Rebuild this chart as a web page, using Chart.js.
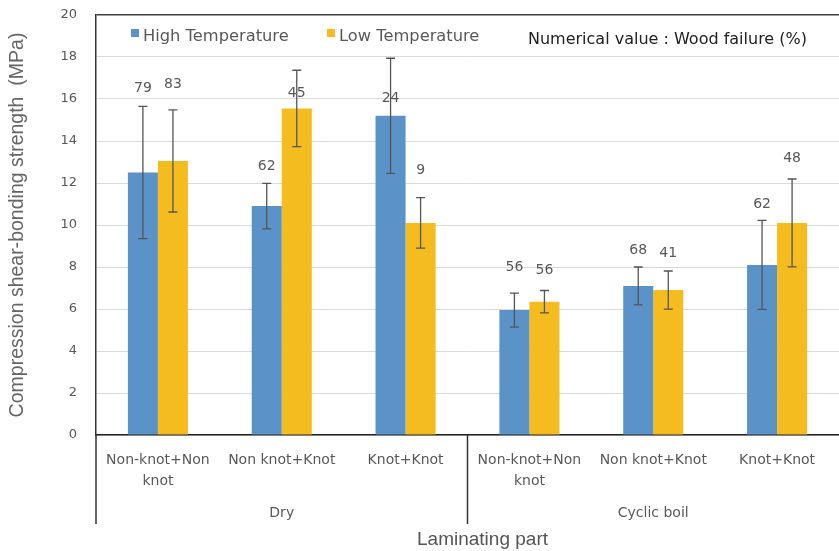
<!DOCTYPE html>
<html>
<head>
<meta charset="utf-8">
<script src="https://cdn.jsdelivr.net/npm/chart.js@4.4.1/dist/chart.umd.min.js"></script>
<style>
  html, body { margin: 0; padding: 0; background: #fff; }
  #wrap { width: 839px; height: 551px; position: relative; }
</style>
</head>
<body>
<div id="wrap"><canvas id="chart"></canvas></div>
<script>
// Data
const parts = [['Non-knot+Non', 'knot'], 'Non knot+Knot', 'Knot+Knot', ['Non-knot+Non', 'knot'], 'Non knot+Knot', 'Knot+Knot'];
const groups = ['Dry', 'Cyclic boil'];
const groupSize = 3;
const highTemp = [12.5, 10.9, 15.2, 5.95, 7.1, 8.1];
const highErr = [3.15, 1.08, 2.74, 0.81, 0.9, 2.12];
const lowTemp = [13.05, 15.55, 10.1, 6.35, 6.9, 10.1];
const lowErr = [2.43, 1.82, 1.2, 0.53, 0.91, 2.09];
// wood failure (%) shown above each bar, and the height (MPa) where each is written
const highWF = [79, 62, 24, 56, 68, 62];
const lowWF = [83, 45, 9, 56, 41, 48];
const highWFAt = [16.5, 12.8, 16.05, 7.98, 8.8, 11.0];
const lowWFAt = [16.7, 16.25, 12.6, 7.85, 8.65, 13.15];
const yMin = 0, yMax = 20, yStep = 2;

const FONT = '"DejaVu Sans", Verdana, sans-serif';
const TITLE_FONT = '"Liberation Sans", Arial, sans-serif';
const GRAY = '#595959';
const errs = [highErr, lowErr];
const wfs = [highWF, lowWF];
const wfAt = [highWFAt, lowWFAt];

// error bars, wood failure numbers, legend, group labels, axis title
const extras = {
  id: 'extras',
  afterDatasetsDraw(chart) {
    const ctx = chart.ctx;
    const y = chart.scales.y;
    ctx.save();
    chart.data.datasets.forEach((ds, di) => {
      const meta = chart.getDatasetMeta(di);
      meta.data.forEach((bar, i) => {
        const v = ds.data[i], e = errs[di][i];
        const top = y.getPixelForValue(v + e), bot = y.getPixelForValue(v - e);
        ctx.strokeStyle = '#555';
        ctx.lineWidth = 1.3;
        ctx.beginPath();
        ctx.moveTo(bar.x, top); ctx.lineTo(bar.x, bot);
        ctx.moveTo(bar.x - 4.5, top); ctx.lineTo(bar.x + 4.5, top);
        ctx.moveTo(bar.x - 4.5, bot); ctx.lineTo(bar.x + 4.5, bot);
        ctx.stroke();
        ctx.fillStyle = GRAY;
        ctx.font = '14px ' + FONT;
        ctx.textAlign = 'center';
        ctx.textBaseline = 'middle';
        ctx.fillText(String(wfs[di][i]), bar.x, y.getPixelForValue(wfAt[di][i]));
      });
    });
    ctx.restore();
  },
  afterDraw(chart) {
    const ctx = chart.ctx;
    const area = chart.chartArea;
    const x = chart.scales.x;
    const bottom = 524;
    ctx.save();
    // legend inside the plot
    const legendX = [131, 327];
    chart.data.datasets.forEach((ds, di) => {
      const lx = legendX[di];
      ctx.fillStyle = ds.backgroundColor;
      ctx.fillRect(lx, 29, 8, 8);
      ctx.fillStyle = GRAY;
      ctx.font = '16.3px ' + FONT;
      ctx.textAlign = 'left';
      ctx.textBaseline = 'middle';
      ctx.fillText(ds.label, lx + 12, 37);
    });
    ctx.fillStyle = '#222';
    ctx.font = '16px ' + FONT;
    ctx.fillText('Numerical value : Wood failure (%)', 528, 40);

    // group separators below the axis
    ctx.strokeStyle = '#333';
    ctx.lineWidth = 1.5;
    ctx.beginPath();
    ctx.moveTo(area.left, area.bottom); ctx.lineTo(area.left, bottom);
    const mid = (x.getPixelForValue(groupSize - 1) + x.getPixelForValue(groupSize)) / 2;
    ctx.moveTo(mid, area.bottom); ctx.lineTo(mid, bottom);
    ctx.stroke();

    // group names
    ctx.fillStyle = GRAY;
    ctx.font = '14px ' + FONT;
    ctx.textAlign = 'center';
    groups.forEach((g, gi) => {
      const a = x.getPixelForValue(gi * groupSize), b = x.getPixelForValue(gi * groupSize + groupSize - 1);
      ctx.fillText(g, (a + b) / 2, 513);
    });

    // x axis title
    ctx.fillStyle = '#555';
    ctx.font = '19px ' + TITLE_FONT;
    ctx.fillText('Laminating part', (area.left + area.right) / 2 + 15, 540);
    ctx.restore();
  }
};

new Chart(document.getElementById('chart'), {
  type: 'bar',
  data: {
    labels: parts,
    datasets: [
      { label: 'High Temperature', data: highTemp, backgroundColor: '#5b93c9', categoryPercentage: 0.485, barPercentage: 1 },
      { label: 'Low Temperature', data: lowTemp, backgroundColor: '#f4bc1f', categoryPercentage: 0.485, barPercentage: 1 }
    ]
  },
  options: {
    responsive: true,
    maintainAspectRatio: false,
    animation: false,
    layout: { padding: { top: 15, right: 0, bottom: 0, left: 0 } },
    plugins: { legend: { display: false }, tooltip: { enabled: false } },
    scales: {
      x: {
        grid: { display: false },
        border: { color: '#222', width: 1.5 },
        ticks: { color: GRAY, font: { family: FONT, size: 14, lineHeight: 1.5 }, padding: 7, maxRotation: 0, autoSkip: false },
        afterFit(scale) { scale.height = 116; }
      },
      y: {
        min: yMin, max: yMax,
        grid: {
          drawTicks: false,
          color: ctx => ctx.tick && ctx.tick.value === yMax ? '#404040' : '#d9d9d9',
          lineWidth: ctx => ctx.tick && ctx.tick.value === yMax ? 1.5 : 1
        },
        border: { color: '#333', width: 1.5 },
        ticks: { stepSize: yStep, color: GRAY, padding: 19, font: { family: FONT, size: 13 } },
        title: {
          display: true,
          text: 'Compression shear-bonding strength  (MPa)',
          color: '#666',
          font: { family: TITLE_FONT, size: 19.5 },
          padding: { top: 6, bottom: 0 }
        },
        afterFit(scale) {
          scale.width = 96;
          scale.paddingTop = 0;
          scale.paddingBottom = 0;
        }
      }
    }
  },
  plugins: [extras]
});
</script>
</body>
</html>
